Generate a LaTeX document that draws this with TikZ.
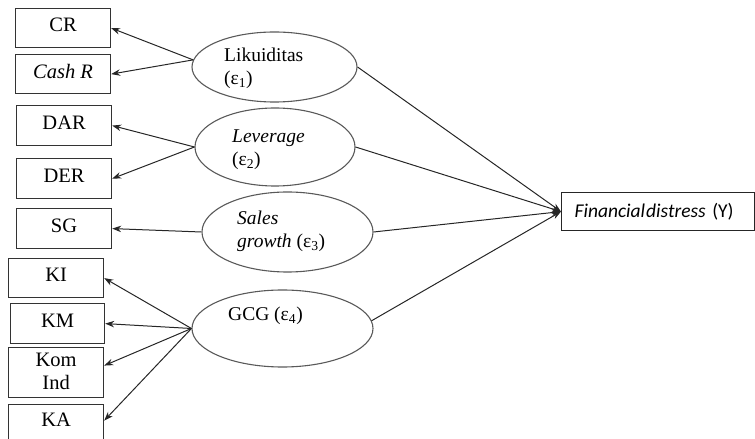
\documentclass[tikz,border=0pt]{standalone}
\usepackage{fontspec}
\setmainfont{Liberation Serif}
\newfontfamily\calib{Carlito}
\usetikzlibrary{shapes.geometric,arrows.meta}
\tikzset{
  ibox/.style={draw=black!80, line width=1.2pt, minimum width=95pt, minimum height=39pt,
    inner sep=0pt, text depth=6pt, anchor=north west, font=\fontsize{20.5}{23}\selectfont, text=black},
  lat/.style={draw=black!65, line width=1.1pt, ellipse, inner sep=0pt},
  etext/.style={anchor=west, align=left, inner sep=0pt, font=\fontsize{19.5}{23}\selectfont, text=black},
  arr/.style={-{Stealth[length=9pt,width=6.5pt]}, line width=1pt, draw=black!85},
}
\begin{document}
\begin{tikzpicture}[x=1pt,y=1pt]
\useasboundingbox (0,0) rectangle (755,439);
\clip (0,0) rectangle (755,439);
% indicator boxes
\node[ibox] (cr) at (15,431) {CR};
\node[ibox] (cash) at (15,385) {\itshape Cash R};
\node[ibox, minimum height=40pt] (dar) at (16,334) {DAR};
\node[ibox, minimum height=40pt] (der) at (16,281) {DER};
\node[ibox, minimum height=40pt] (sg) at (16,231) {SG};
\node[ibox] (ki) at (8,181) {KI};
\node[ibox, minimum width=94pt, minimum height=40pt] (km) at (10,136) {KM};
\node[ibox, minimum height=50pt, text depth=3pt, align=center, font=\fontsize{20.5}{23}\selectfont] (kom) at (8,92) {Kom\\Ind};
\node[ibox, minimum height=40pt, text depth=10pt] (ka) at (8,35) {KA};
% latent ellipses
\node[lat, minimum width=165pt, minimum height=70pt] (lik) at (274.5,372) {};
\node[lat, minimum width=160pt, minimum height=78pt] (lev) at (275,292) {};
\node[lat, minimum width=171pt, minimum height=80pt] (sal) at (287.5,207) {};
\node[lat, minimum width=181pt, minimum height=77pt] (gcg) at (282.5,110.5) {};
% ellipse texts
\node[etext] (likt) at (224,371) {Likuiditas\\(ε\textsubscript{1})};
\node[etext] (levt) at (232,289) {\itshape Leverage\\(ε\textsubscript{2})};
\node[etext] (salt) at (237,208) {\itshape Sales\\\itshape growth \upshape(ε\textsubscript{3})};
\node[etext] (gcgt) at (228,123) {GCG (ε\textsubscript{4})};
% dependent
\node[draw=black!85, line width=1.2pt, anchor=north west, minimum width=193pt, minimum height=38pt,
  inner xsep=13pt, inner ysep=0pt, text width=167pt, align=left, text=black,
  font=\calib\fontsize{19.5}{22}\selectfont] (fd) at (561,247)
  {{\itshape Financial\hspace{1pt}distress} (Y)};
% arrows to indicators
\draw[arr] (lik.175) -- (cr.east);
\draw[arr] (lik.175) -- (cash.east);
\draw[arr] (lev.west) -- (dar.east);
\draw[arr] (lev.west) -- (der.east);
\draw[arr] (sal.west) -- (sg.east);
\draw[arr] (gcg.west) -- (ki.east);
\draw[arr] (gcg.west) -- (km.east);
\draw[arr] (gcg.west) -- ([yshift=7pt]kom.east);
\draw[arr] (gcg.west) -- ([yshift=4pt]ka.east);
% arrows to Y
\draw[arr] (lik.east) -- (fd.west);
\draw[arr] (lev.east) -- (fd.west);
\draw[arr] (sal.east) -- (fd.west);
\draw[arr] (gcg.5) -- (fd.west);
\end{tikzpicture}
\end{document}
